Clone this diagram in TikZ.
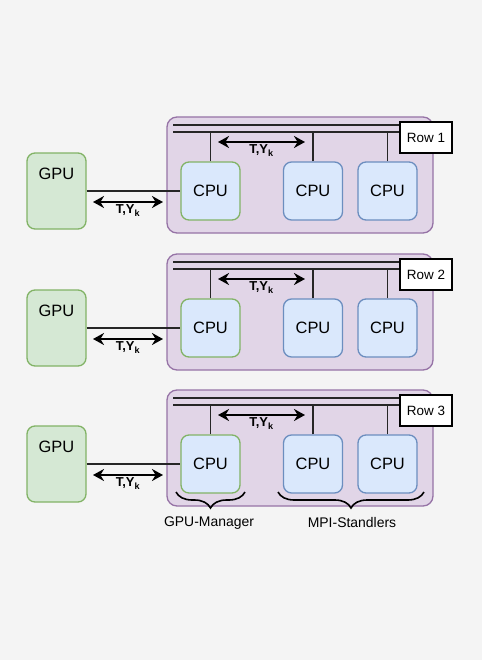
\documentclass[tikz,border=0pt]{standalone}
\usepackage{fontspec}
\setmainfont{Liberation Sans}
\usetikzlibrary{arrows.meta}
\usetikzlibrary{decorations.pathreplacing,calligraphy}
\tikzset{>={Stealth[width=12bp,length=11bp]}}
\definecolor{bgcol}{HTML}{F4F4F4}
\definecolor{rowfill}{HTML}{E1D5E7}
\definecolor{rowline}{HTML}{9673A6}
\definecolor{cpufill}{HTML}{DAE8FC}
\definecolor{cpuline}{HTML}{6C8EBF}
\definecolor{gpufill}{HTML}{D5E8D4}
\definecolor{gpuline}{HTML}{82B366}
\tikzset{
  rowbox/.style={draw=rowline, fill=rowfill, line width=1.3bp, rounded corners=10bp,
    minimum width=266bp, minimum height=116bp},
  cpubox/.style={draw=cpuline, fill=cpufill, line width=1.3bp, rounded corners=8bp,
    minimum width=59bp, minimum height=58bp, inner sep=0pt, font=\fontsize{16.5}{18}\selectfont},
  gpubox/.style={draw=gpuline, fill=gpufill, line width=1.3bp, rounded corners=8bp,
    minimum width=59bp, text height=26bp, text depth=50bp, inner sep=0pt,
    font=\fontsize{16.5}{18}\selectfont},
  rowlabel/.style={draw=black, fill=white, line width=1.3bp, minimum width=52bp,
    minimum height=31bp, inner sep=0pt, font=\fontsize{13.5}{15}\selectfont},
  busline/.style={draw=black!85, line width=1.5bp},
  msg/.style={<->, line width=2bp},
  tylabel/.style={below, inner sep=2bp, font=\bfseries\fontsize{13}{14}\selectfont},
  groupbrace/.style={decorate, decoration={brace, mirror, amplitude=16bp}, line width=1.6bp},
  notetext/.style={font=\fontsize{14}{16}\selectfont}
}
\begin{document}
\begin{tikzpicture}[x=1bp, y=-1bp]
  \fill[bgcol] (0,0) rectangle (482,660);
  \foreach \r/\t in {1/117,2/254,3/390} {
    % row frame and bus
    \node[rowbox] (row\r) at (300,\t+58) {};
    \node[rowlabel] (lab\r) at (426,\t+20.5) {Row \r};
    \coordinate (busa\r) at (173,\t+8);
    \coordinate (busb\r) at (173,\t+15);
    \draw[busline] (busa\r) -- (busa\r -| lab\r.west);
    \draw[busline] (busb\r) -- (busb\r -| lab\r.west);
    % processors
    \node[cpubox, draw=gpuline] (cpua\r) at (210.5,\t+74) {CPU};
    \node[cpubox] (cpub\r) at (313,\t+74) {CPU};
    \node[cpubox] (cpuc\r) at (387.5,\t+74) {CPU};
    \node[gpubox] (gpu\r) at (56.5,\t+74) {GPU};
    \draw[busline] (cpua\r.north) -- (cpua\r.north |- busb\r);
    \draw[busline] (cpub\r.north) -- (cpub\r.north |- busb\r);
    \draw[busline] (cpuc\r.north) -- (cpuc\r.north |- busb\r);
    \draw[busline] (gpu\r) -- (cpua\r);
    % messages
    \coordinate (upa\r) at (218,\t+25);
    \coordinate (upb\r) at (305,\t+25);
    \coordinate (loa\r) at (93,\t+85);
    \coordinate (lob\r) at (163,\t+85);
    \draw[msg] (upa\r) -- node[tylabel] {T,Y\textsubscript{k}} (upb\r);
    \draw[msg] (loa\r) -- node[tylabel] {T,Y\textsubscript{k}} (lob\r);
  }
  % groups
  \coordinate (mgra) at (176,492);
  \coordinate (mgrb) at (245,492);
  \coordinate (mpia) at (278,492);
  \coordinate (mpib) at (424,492);
  \draw[groupbrace] (mgra) -- (mgrb);
  \draw[groupbrace] (mpia) -- (mpib);
  \node[notetext] (mgr) at (209,523) {GPU-Manager};
  \node[notetext] (mpi) at (352,523) {MPI-Standlers};
\end{tikzpicture}
\end{document}
